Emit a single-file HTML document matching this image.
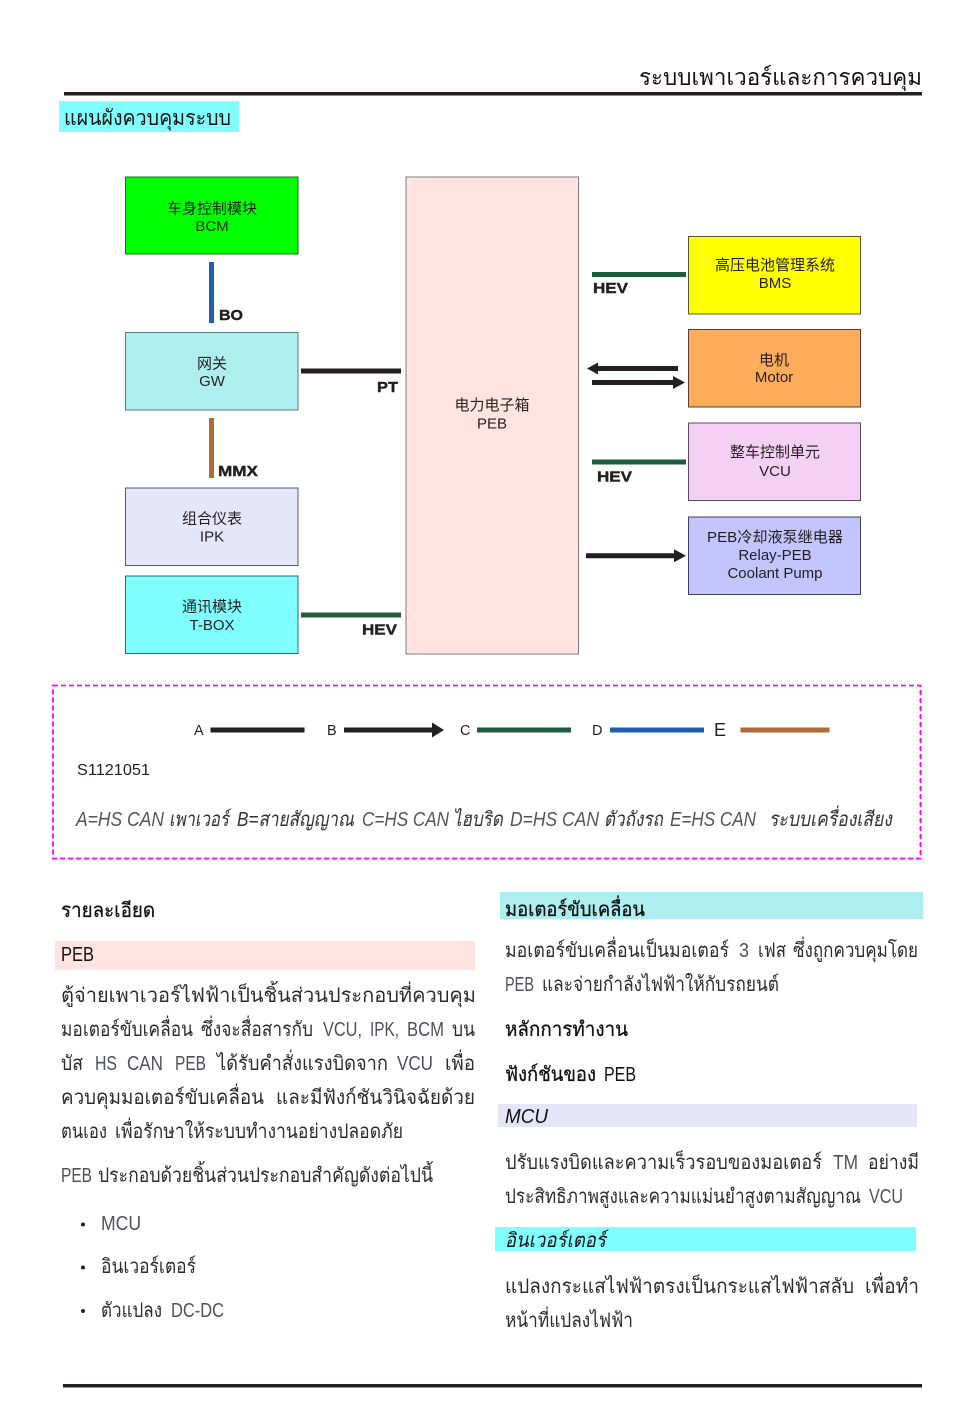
<!DOCTYPE html>
<html lang="th"><head><meta charset="utf-8"><style>
html,body{margin:0;padding:0;background:#fff;width:960px;height:1418px;overflow:hidden}
svg{display:block}
text{font-family:"Liberation Sans","Noto Sans CJK SC","Loma","Garuda","Noto Sans Thai Looped","Noto Sans Thai","Tahoma","DejaVu Sans",sans-serif;fill:#231f20}
.c{font-size:15px;text-anchor:middle}
.b{font-weight:bold;font-size:15px;stroke:#231f20;stroke-width:.4px}
.t{font-size:20px;fill:#2c2c2c}
.n{font-size:20px;fill:#50505c}
.h{font-size:20px;fill:#111}
.s{font-size:20px;fill:#111;stroke:#111;stroke-width:.3px}
.l{font-size:14.5px}
.i{font-size:20px;font-style:italic;fill:#333}
.j{font-size:20px;font-style:italic;fill:#555}
</style></head><body>
<svg width="960" height="1418" viewBox="0 0 960 1418" xmlns="http://www.w3.org/2000/svg">
<!-- header -->
<text x="639" y="85" class="h" style="font-size:23px" textLength="283" lengthAdjust="spacingAndGlyphs">ระบบเพาเวอร์และการควบคุม</text>
<rect x="64" y="92" width="858" height="3.5" fill="#231f20"/>
<rect x="59" y="101" width="180" height="31" fill="#80ffff"/>
<text x="64" y="125" class="h" style="font-size:21px" textLength="167" lengthAdjust="spacingAndGlyphs">แผนผังควบคุมระบบ</text>
<!-- left boxes -->
<rect x="125.500" y="177" width="172.500" height="77" fill="#00ff00" stroke="#1d6b1d" stroke-width="1"/>
<text x="212" y="213.500" class="c">车身控制模块</text><text x="212" y="231" class="c">BCM</text>
<rect x="125.500" y="332.500" width="172.500" height="77.500" fill="#afeeee" stroke="#4d7f7f" stroke-width="1"/>
<text x="212" y="368.500" class="c">网关</text><text x="212" y="386" class="c">GW</text>
<rect x="125.500" y="488" width="172.500" height="77.500" fill="#e6e6fa" stroke="#58586a" stroke-width="1"/>
<text x="212" y="523.500" class="c">组合仪表</text><text x="212" y="541.500" class="c">IPK</text>
<rect x="125.500" y="576" width="172.500" height="77.500" fill="#80ffff" stroke="#2c6a6a" stroke-width="1"/>
<text x="212" y="611.500" class="c">通讯模块</text><text x="212" y="630" class="c">T-BOX</text>
<!-- PEB -->
<rect x="406" y="177" width="172.500" height="477" fill="#ffe4e1" stroke="#857878" stroke-width="1"/>
<text x="492" y="410" class="c">电力电子箱</text><text x="492" y="428.500" class="c">PEB</text>
<!-- right boxes -->
<rect x="688.500" y="236.500" width="172" height="77.500" fill="#ffff00" stroke="#55552a" stroke-width="1"/>
<text x="775" y="270" class="c">高压电池管理系统</text><text x="775" y="288" class="c">BMS</text>
<rect x="688.500" y="329.500" width="172" height="77.500" fill="#ffad5b" stroke="#5a3a30" stroke-width="1"/>
<text x="774" y="365" class="c">电机</text><text x="774" y="382" class="c">Motor</text>
<rect x="688.500" y="423" width="172" height="77.500" fill="#f5d0f5" stroke="#5a4a5a" stroke-width="1"/>
<text x="775" y="457" class="c">整车控制单元</text><text x="775" y="476" class="c">VCU</text>
<rect x="688.500" y="517" width="172" height="77.500" fill="#c4c4ff" stroke="#404060" stroke-width="1"/>
<text x="775" y="542" class="c" textLength="136" lengthAdjust="spacingAndGlyphs">PEB冷却液泵继电器</text><text x="775" y="560" class="c">Relay-PEB</text><text x="775" y="578" class="c">Coolant Pump</text>
<!-- connectors -->
<rect x="209" y="262" width="5" height="61" fill="#1f5fad"/>
<text x="219" y="320" class="b" textLength="24" lengthAdjust="spacingAndGlyphs">BO</text>
<rect x="209" y="418" width="5" height="60" fill="#b06a35"/>
<text x="218" y="476" class="b" textLength="40" lengthAdjust="spacingAndGlyphs">MMX</text>
<rect x="301" y="368.500" width="100" height="5" fill="#231f20"/>
<text x="377" y="392" class="b" textLength="21" lengthAdjust="spacingAndGlyphs">PT</text>
<rect x="301" y="612.500" width="100" height="5" fill="#1f5c3d"/>
<text x="362" y="634.500" class="b" textLength="35" lengthAdjust="spacingAndGlyphs">HEV</text>
<rect x="592" y="272" width="94" height="5" fill="#1f5c3d"/>
<text x="593" y="293" class="b" textLength="35" lengthAdjust="spacingAndGlyphs">HEV</text>
<rect x="592" y="459.500" width="94" height="5" fill="#1f5c3d"/>
<text x="597" y="481.500" class="b" textLength="35" lengthAdjust="spacingAndGlyphs">HEV</text>
<path d="M678 366h-80v-3.500l-11 6 11 6v-3.500h80z" fill="#231f20"/>
<path d="M592 380h81v-4l12 6.500-12 6.500v-4h-81z" fill="#231f20"/>
<path d="M586 553.300h88v-4l12 6.500-12 6.500v-4h-88z" fill="#231f20"/>
<!-- legend -->
<rect x="53" y="685.500" width="867.500" height="173" fill="none" stroke="#ff00ff" stroke-width="1.800" stroke-dasharray="5 3"/>
<text x="194" y="735" class="l">A</text>
<rect x="210.500" y="727.500" width="94" height="5" fill="#231f20"/>
<text x="327" y="735" class="l">B</text>
<path d="M344 727.500h88v-5l12 7.500-12 7.500v-5h-88z" fill="#231f20"/>
<text x="460" y="735" class="l">C</text>
<rect x="477" y="727.500" width="94" height="5" fill="#1f5c3d"/>
<text x="592" y="735" class="l">D</text>
<rect x="610" y="727.500" width="94" height="5" fill="#1f5fad"/>
<text x="714" y="736" style="font-size:18px">E</text>
<rect x="740.500" y="727.500" width="89" height="5" fill="#b06a35"/>
<text x="77" y="775" style="font-size:16px" textLength="73" lengthAdjust="spacingAndGlyphs">S1121051</text>
<text x="76" y="826" class="j" textLength="88" lengthAdjust="spacingAndGlyphs">A=HS CAN</text>
<text x="169" y="826" class="i" textLength="60" lengthAdjust="spacingAndGlyphs">เพาเวอร์</text>
<text x="237" y="826" class="i" textLength="117" lengthAdjust="spacingAndGlyphs">B=สายสัญญาณ</text>
<text x="362" y="826" class="j" textLength="87" lengthAdjust="spacingAndGlyphs">C=HS CAN</text>
<text x="453" y="826" class="i" textLength="50" lengthAdjust="spacingAndGlyphs">ไฮบริด</text>
<text x="510" y="826" class="j" textLength="89" lengthAdjust="spacingAndGlyphs">D=HS CAN</text>
<text x="604" y="826" class="i" textLength="59" lengthAdjust="spacingAndGlyphs">ตัวถังรถ</text>
<text x="670" y="826" class="j" textLength="86" lengthAdjust="spacingAndGlyphs">E=HS CAN</text>
<text x="769" y="826" class="i" textLength="123" lengthAdjust="spacingAndGlyphs">ระบบเครื่องเสียง</text>
<!-- left column -->
<text x="61" y="917" class="s" textLength="94" lengthAdjust="spacingAndGlyphs">รายละเอียด</text>
<rect x="55" y="941" width="420" height="29" fill="#ffe4e1"/>
<text x="61" y="961" class="h" textLength="33" lengthAdjust="spacingAndGlyphs">PEB</text>
<text x="61" y="1002" class="t" textLength="415" lengthAdjust="spacingAndGlyphs">ตู้จ่ายเพาเวอร์ไฟฟ้าเป็นชิ้นส่วนประกอบที่ควบคุม</text>

<text x="61" y="1036" class="t" textLength="132" lengthAdjust="spacingAndGlyphs">มอเตอร์ขับเคลื่อน</text>
<text x="201" y="1036" class="t" textLength="112" lengthAdjust="spacingAndGlyphs">ซึ่งจะสื่อสารกับ</text>
<text x="323" y="1036" class="n" textLength="39" lengthAdjust="spacingAndGlyphs">VCU,</text>
<text x="370" y="1036" class="n" textLength="29" lengthAdjust="spacingAndGlyphs">IPK,</text>
<text x="407" y="1036" class="n" textLength="37" lengthAdjust="spacingAndGlyphs">BCM</text>
<text x="452" y="1036" class="t" textLength="23" lengthAdjust="spacingAndGlyphs">บน</text>

<text x="61" y="1070" class="t" textLength="22" lengthAdjust="spacingAndGlyphs">บัส</text>
<text x="95" y="1070" class="n" textLength="22" lengthAdjust="spacingAndGlyphs">HS</text>
<text x="127" y="1070" class="n" textLength="36" lengthAdjust="spacingAndGlyphs">CAN</text>
<text x="175" y="1070" class="n" textLength="31" lengthAdjust="spacingAndGlyphs">PEB</text>
<text x="217" y="1070" class="t" textLength="171" lengthAdjust="spacingAndGlyphs">ได้รับคำสั่งแรงบิดจาก</text>
<text x="397" y="1070" class="n" textLength="36" lengthAdjust="spacingAndGlyphs">VCU</text>
<text x="445" y="1070" class="t" textLength="30" lengthAdjust="spacingAndGlyphs">เพื่อ</text>

<text x="61" y="1104" class="t" textLength="203" lengthAdjust="spacingAndGlyphs">ควบคุมมอเตอร์ขับเคลื่อน</text>
<text x="276" y="1104" class="t" textLength="199" lengthAdjust="spacingAndGlyphs">และมีฟังก์ชันวินิจฉัยด้วย</text>

<text x="61" y="1138" class="t" textLength="46" lengthAdjust="spacingAndGlyphs">ตนเอง</text>
<text x="115" y="1138" class="t" textLength="288" lengthAdjust="spacingAndGlyphs">เพื่อรักษาให้ระบบทำงานอย่างปลอดภัย</text>

<text x="61" y="1182" class="n" textLength="31" lengthAdjust="spacingAndGlyphs">PEB</text>
<text x="98" y="1182" class="t" textLength="335" lengthAdjust="spacingAndGlyphs">ประกอบด้วยชิ้นส่วนประกอบสำคัญดังต่อไปนี้</text>

<circle cx="83" cy="1224.500" r="2" fill="#222"/>
<text x="101" y="1230" class="n" textLength="40" lengthAdjust="spacingAndGlyphs">MCU</text>
<circle cx="83" cy="1267.500" r="2" fill="#222"/>
<text x="101" y="1273" class="t" textLength="95" lengthAdjust="spacingAndGlyphs">อินเวอร์เตอร์</text>
<circle cx="83" cy="1311" r="2" fill="#222"/>
<text x="101" y="1317" class="t" textLength="61" lengthAdjust="spacingAndGlyphs">ตัวแปลง</text>
<text x="171" y="1317" class="n" textLength="53" lengthAdjust="spacingAndGlyphs">DC-DC</text>
<!-- right column -->
<rect x="500" y="892" width="423" height="27" fill="#afeeee"/>
<text x="505" y="916" class="s" textLength="140" lengthAdjust="spacingAndGlyphs">มอเตอร์ขับเคลื่อน</text>

<text x="505" y="957" class="t" textLength="224" lengthAdjust="spacingAndGlyphs">มอเตอร์ขับเคลื่อนเป็นมอเตอร์</text>
<text x="739" y="957" class="n" textLength="10" lengthAdjust="spacingAndGlyphs">3</text>
<text x="758" y="957" class="t" textLength="28" lengthAdjust="spacingAndGlyphs">เฟส</text>
<text x="793" y="957" class="t" textLength="125" lengthAdjust="spacingAndGlyphs">ซึ่งถูกควบคุมโดย</text>

<text x="505" y="991" class="n" textLength="29" lengthAdjust="spacingAndGlyphs">PEB</text>
<text x="542" y="991" class="t" textLength="237" lengthAdjust="spacingAndGlyphs">และจ่ายกำลังไฟฟ้าให้กับรถยนต์</text>

<text x="505" y="1036" class="s" textLength="123" lengthAdjust="spacingAndGlyphs">หลักการทำงาน</text>
<text x="505" y="1081" class="s" textLength="91" lengthAdjust="spacingAndGlyphs">ฟังก์ชันของ</text>
<text x="604" y="1081" class="h" textLength="32" lengthAdjust="spacingAndGlyphs">PEB</text>
<rect x="498" y="1104" width="419" height="23" fill="#e6e6fa"/>
<text x="505" y="1123" class="h" style="font-style:italic" textLength="43" lengthAdjust="spacingAndGlyphs">MCU</text>

<text x="505" y="1169" class="t" textLength="317" lengthAdjust="spacingAndGlyphs">ปรับแรงบิดและความเร็วรอบของมอเตอร์</text>
<text x="833" y="1169" class="n" textLength="25" lengthAdjust="spacingAndGlyphs">TM</text>
<text x="868" y="1169" class="t" textLength="51" lengthAdjust="spacingAndGlyphs">อย่างมี</text>

<text x="505" y="1203" class="t" textLength="356" lengthAdjust="spacingAndGlyphs">ประสิทธิภาพสูงและความแม่นยำสูงตามสัญญาณ</text>
<text x="869" y="1203" class="n" textLength="34" lengthAdjust="spacingAndGlyphs">VCU</text>

<rect x="495" y="1227" width="421" height="24" fill="#80ffff"/>
<text x="505" y="1247" class="h" style="font-style:italic" textLength="101" lengthAdjust="spacingAndGlyphs">อินเวอร์เตอร์</text>

<text x="505" y="1293" class="t" textLength="349" lengthAdjust="spacingAndGlyphs">แปลงกระแสไฟฟ้าตรงเป็นกระแสไฟฟ้าสลับ</text>
<text x="865" y="1293" class="t" textLength="54" lengthAdjust="spacingAndGlyphs">เพื่อทำ</text>
<text x="505" y="1327" class="t" textLength="128" lengthAdjust="spacingAndGlyphs">หน้าที่แปลงไฟฟ้า</text>
<rect x="63" y="1384" width="859" height="3.500" fill="#231f20"/>
</svg>
</body></html>
